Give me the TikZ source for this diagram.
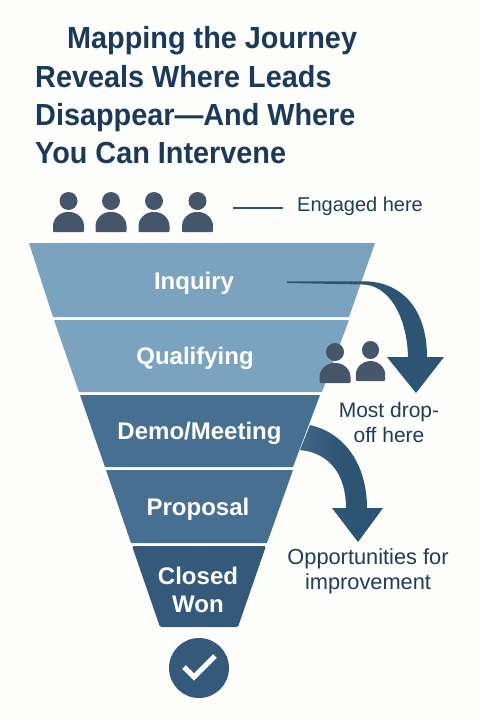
\documentclass[tikz,border=0pt]{standalone}
\usepackage{fontspec}
\setmainfont{Liberation Sans}
\newfontfamily\titlefont[FakeStretch=0.945,BoldFont={Liberation Sans Bold}]{Liberation Sans}
\definecolor{bgc}{HTML}{FDFDFC}
\definecolor{bandA}{HTML}{7BA3C0}
\definecolor{bandB}{HTML}{476F91}
\definecolor{bandC}{HTML}{35597A}
\definecolor{arrowc}{HTML}{2E5473}
\definecolor{personc}{HTML}{45566A}
\definecolor{titlec}{HTML}{1B3A5A}
\definecolor{labelc}{HTML}{223C58}
\tikzset{
 x=1pt,y=-1pt,
 band/.style={line width=0pt,rounded corners=0.6pt},
 bandlabel/.style={text=white,font=\fontsize{24}{28}\selectfont\bfseries,align=center,inner sep=0pt},
 titleline/.style={text=titlec,anchor=base west,inner sep=0pt,font=\titlefont\fontsize{30.5}{34}\selectfont\bfseries},
 sidelabel/.style={text=labelc,font=\fontsize{20}{25}\selectfont,align=center,inner sep=0pt},
 pics/person/.style={code={
   \fill[personc] (0,-31) circle[radius=9];
   \fill[personc,rounded corners=1pt] (-15.5,0) -- (-15.5,-5) .. controls (-15.5,-14) and (-8,-20) .. (0,-20) .. controls (8,-20) and (15.5,-14) .. (15.5,-5) -- (15.5,0) -- cycle;
 }}
}
\begin{document}
\begin{tikzpicture}
\fill[bgc] (0,0) rectangle (480,720);
\useasboundingbox (0,0) rectangle (480,720);
% title
\node[titleline] (t1) at (67,48) {Mapping the Journey};
\node[titleline] (t2) at (35,87) {Reveals Where Leads};
\node[titleline] (t3) at (35,125) {Disappear—And Where};
\node[titleline] (t4) at (35,163) {You Can Intervene};
% people row
\pic at (68.5,232) {person};
\pic at (111,232) {person};
\pic at (154,232) {person};
\pic at (197.5,232) {person};
\node[sidelabel,anchor=west] (engaged) at (297,206) {Engaged here};
\coordinate (engline) at (233,208);
\draw[color=arrowc,line width=1.2pt] (engline) -- (283,208);
% funnel bands
\fill[bandA,band] (29,243) -- (375,243) -- (349,317) -- (53,317) -- cycle;
\fill[bandA,band] (54,320) -- (349,320) -- (322,392) -- (79,392) -- cycle;
\fill[bandB,band] (80,395) -- (320,395) -- (293,467) -- (105,467) -- cycle;
\fill[bandB,band] (106,470) -- (293,470) -- (267,543) -- (131,543) -- cycle;
\fill[bandC,rounded corners=1.5pt] (132,546) -- (266,546) -- (238,627) -- (160,627) -- cycle;
\node[bandlabel] (inq) at (194,283) {Inquiry};
\node[bandlabel] (qual) at (195,358) {Qualifying};
\node[bandlabel] (demo) at (199.5,433) {Demo/Meeting};
\node[bandlabel] (prop) at (198,509) {Proposal};
\node[bandlabel,font=\fontsize{24}{28}\selectfont\bfseries] (won) at (198,589.5) {Closed\\Won};
% small people
\pic at (335,383) {person};
\pic[xscale=0.95] at (370.5,381) {person};
% arrows
\fill[arrowc] (287,281.3) -- (363,281.3) .. controls (398,281) and (427,305) .. (427,357) -- (444,357) -- (416,393) -- (387,357) -- (408,357) .. controls (407,315) and (388,285) .. (363,284.5) -- (287,283) -- cycle;
\shade[left color=bandB!70!arrowc,right color=arrowc,middle color=arrowc] (310,425) .. controls (345,433) and (367,465) .. (367,508) -- (383,508) -- (358,542) -- (332,508) -- (346,508) .. controls (346,475) and (330,453) .. (300,450) -- cycle;
% side labels
\node[sidelabel,font=\fontsize{21}{25}\selectfont] (drop) at (389,422) {Most drop-\\off here};
\node[sidelabel,font=\fontsize{21.8}{25}\selectfont] (opp) at (368,571) {Opportunities for\\improvement};
% check badge
\node[circle,fill=bandC,minimum size=60pt,inner sep=0pt] (badge) at (199,668) {};
\draw[white,line width=5pt] (184,667) -- (194,677) -- (215,656);
\end{tikzpicture}
\end{document}
